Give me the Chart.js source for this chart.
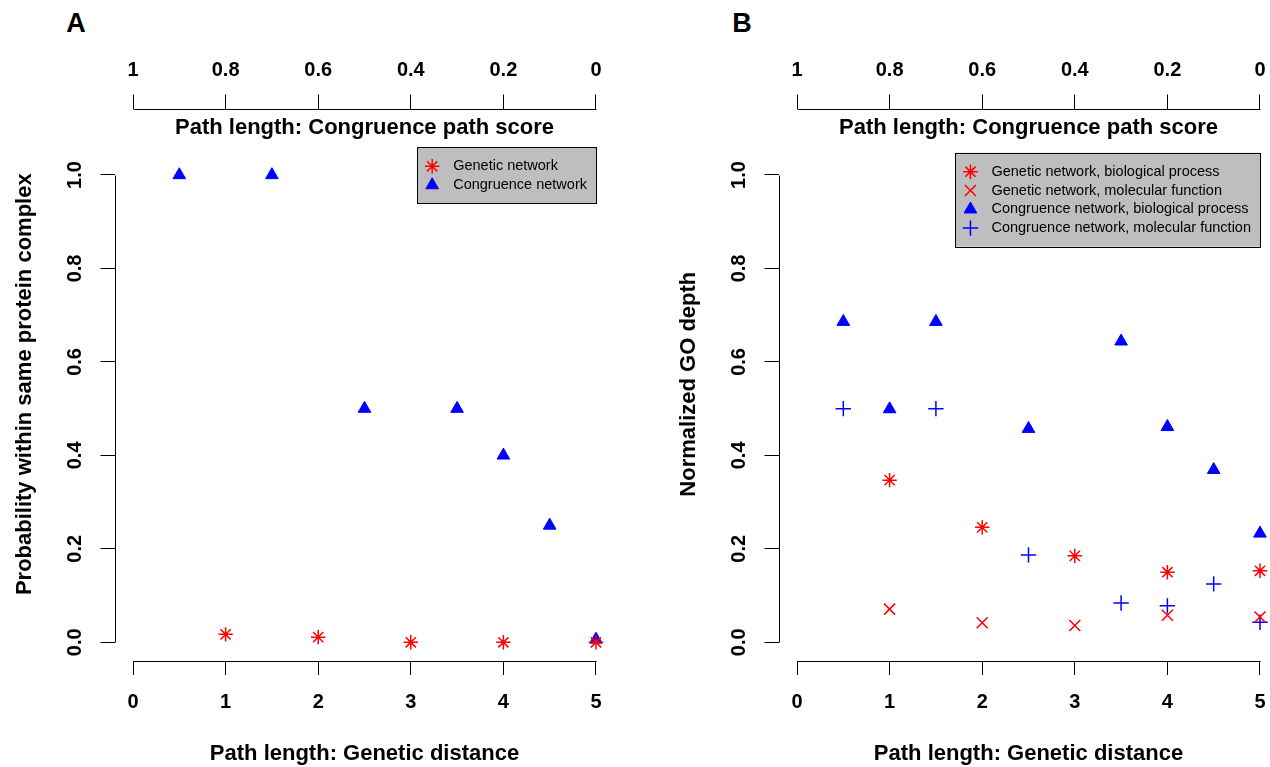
<!DOCTYPE html>
<html><head><meta charset="utf-8">
<script src="https://cdn.jsdelivr.net/npm/chart.js@4/dist/chart.umd.min.js"></script>
<style>
html,body{margin:0;padding:0;background:#fff;overflow:hidden;width:1270px;height:767px;position:relative}
.wrap{position:absolute;top:0;height:767px}
.lab{position:absolute;font:bold 27px "Liberation Sans",Arial,sans-serif;transform:translate(-50%,-50%);line-height:1}
</style></head><body>
<div class="lab" style="left:76px;top:23px">A</div>
<div class="lab" style="left:742px;top:23px">B</div>
<div class="wrap" style="left:0;width:635px"><canvas id="cA" width="635" height="767"></canvas></div>
<div class="wrap" style="left:664px;width:635px"><canvas id="cB" width="635" height="767"></canvas></div>
<script>
// ---- data ----
const pathLengthTicks = [0, 1, 2, 3, 4, 5];
const pathLengthLabels = ["0", "1", "2", "3", "4", "5"];
const congruenceScoreTicks = [1, 0.8, 0.6, 0.4, 0.2, 0];
const congruenceScoreLabels = ["1", "0.8", "0.6", "0.4", "0.2", "0"];
const yTicks = [0, 0.2, 0.4, 0.6, 0.8, 1.0];
const yTickLabels = ["0.0", "0.2", "0.4", "0.6", "0.8", "1.0"];

// Panel A
const geneticDistanceA = [1, 2, 3, 4, 5];
const probGenetic = [0.017, 0.011, 0, 0, 0];
const congruenceDistanceA = [0.5, 1.5, 2.5, 3.5, 4, 4.5, 5];
const probCongruence = [1.0, 1.0, 0.5, 0.5, 0.4, 0.25, 0.006];

// Panel B
const geneticDistanceB = [1, 2, 3, 4, 5];
const goGeneticBP = [0.347, 0.246, 0.185, 0.150, 0.153];
const goGeneticMF = [0.071, 0.042, 0.036, 0.058, 0.054];
const congruenceDistanceBP = [0.5, 1, 1.5, 2.5, 3.5, 4, 4.5, 5];
const goCongruenceBP = [0.686, 0.499, 0.686, 0.457, 0.644, 0.461, 0.369, 0.233];
const congruenceDistanceMF = [0.5, 1.5, 2.5, 3.5, 4, 4.5, 5];
const goCongruenceMF = [0.5, 0.5, 0.187, 0.084, 0.078, 0.125, 0.043];

const FONT = '"Liberation Sans", Arial, Helvetica, sans-serif';
const RED = '#FF0000', BLUE = '#0000FF';

function pts(xs, ys) { return xs.map((x, i) => ({x: x, y: ys[i]})); }

function series(label, xs, ys, style, color, radius, bw) {
  return {
    label: label, data: pts(xs, ys), pointStyle: style,
    pointRadius: radius, pointHoverRadius: radius,
    borderColor: color, backgroundColor: color, borderWidth: bw,
    pointBorderWidth: bw, showLine: false, xAxisID: 'x', yAxisID: 'y'
  };
}

const axisLinePlugin = {
  id: 'axisLines',
  afterDraw(chart) {
    const ctx = chart.ctx;
    ctx.save();
    ctx.strokeStyle = '#000';
    ctx.lineWidth = 1;
    ['x', 'x2', 'y'].forEach(id => {
      const s = chart.scales[id];
      const t = s.ticks;
      const p0 = s.getPixelForValue(t[0].value);
      const p1 = s.getPixelForValue(t[t.length - 1].value);
      ctx.beginPath();
      if (s.isHorizontal()) {
        const y = Math.round(s.position === 'top' ? s.bottom : s.top) + 0.5;
        ctx.moveTo(Math.round(p0) + 0.5, y);
        ctx.lineTo(Math.round(p1) + 0.5, y);
      } else {
        const x = Math.round(s.right) + 0.5;
        ctx.moveTo(x, Math.round(p0) + 0.5);
        ctx.lineTo(x, Math.round(p1) + 0.5);
      }
      ctx.stroke();
    });
    ctx.restore();
  }
};

const boxLegend = {
  id: 'boxLegend',
  afterDraw(chart, args, opts) {
    const ctx = chart.ctx;
    const ds = chart.data.datasets;
    ctx.save();
    ctx.font = opts.fontSize + 'px ' + FONT;
    const tw = Math.max.apply(null, ds.map(d => ctx.measureText(d.label).width));
    const w = 36 + tw + 9;
    const rowH = 18.8;
    const h = 19 + rowH * (ds.length - 1) + 18.5;
    const right = chart.scales.x.getPixelForValue(opts.anchorX);
    const left = right - w, top = opts.top;
    ctx.fillStyle = '#BEBEBE';
    ctx.fillRect(left, top, w, h);
    ctx.strokeStyle = '#000';
    ctx.lineWidth = 1;
    ctx.strokeRect(Math.round(left) + 0.5, Math.round(top) + 0.5, Math.round(w), Math.round(h));
    ds.forEach((d, i) => {
      const y = top + 19 + i * rowH;
      ctx.strokeStyle = d.borderColor;
      ctx.fillStyle = d.backgroundColor;
      ctx.lineWidth = d.borderWidth;
      Chart.helpers.drawPoint(ctx, {pointStyle: d.pointStyle, radius: d.pointRadius, rotation: 0, borderWidth: d.borderWidth}, left + 15, y);
      ctx.fillStyle = '#000';
      ctx.textBaseline = 'middle';
      ctx.textAlign = 'left';
      ctx.fillText(d.label, left + 36, y);
    });
    ctx.restore();
  }
};

function tickFont() { return {family: FONT, size: 20, weight: 'bold'}; }
function titleFont() { return {family: FONT, size: 22, weight: 'bold'}; }
function tickGrid() { return {display: true, drawOnChartArea: false, drawTicks: true, tickLength: 14, color: '#000', lineWidth: 1}; }

function makeOptions(yTitle, legendTop) {
  return {
    responsive: false,
    animation: false,
    events: [],
    layout: {padding: {left: 0, right: 20.5, top: 0, bottom: 0}},
    plugins: {
      legend: {display: false},
      tooltip: {enabled: false},
      boxLegend: {top: legendTop, anchorX: 5, fontSize: 14.5}
    },
    scales: {
      x: {
        type: 'linear', position: 'bottom', min: -0.2, max: 5.2,
        afterBuildTicks: s => { s.ticks = pathLengthTicks.map(v => ({value: v})); },
        afterFit: s => { s.height = 106; },
        grid: tickGrid(), border: {display: false},
        ticks: {color: '#000', font: tickFont(), padding: 15.7, maxRotation: 0, minRotation: 0, autoSkip: false,
                callback: (v, i) => pathLengthLabels[i]},
        title: {display: true, text: 'Path length: Genetic distance', color: '#000', font: titleFont(), padding: {top: 0, bottom: 0}}
      },
      x2: {
        type: 'linear', position: 'top', min: -0.04, max: 1.04, reverse: true, weight: 1,
        afterBuildTicks: s => { s.ticks = congruenceScoreTicks.map(v => ({value: v})); },
        afterFit: s => { s.height = 108.5; },
        grid: tickGrid(), border: {display: false},
        ticks: {color: '#000', font: tickFont(), padding: 12.5, maxRotation: 0, minRotation: 0, autoSkip: false,
                callback: (v, i) => congruenceScoreLabels[i]},
        title: {display: false}
      },
      x3: {
        type: 'linear', position: 'top', min: -0.04, max: 1.04, weight: 0,
        afterFit: s => { s.height = 47.8; },
        grid: {display: false}, border: {display: false},
        ticks: {display: false},
        title: {display: true, text: 'Path length: Congruence path score', color: '#000', font: titleFont(), padding: {top: 6.3, bottom: 0}}
      },
      y: {
        type: 'linear', position: 'left', min: -0.04, max: 1.04,
        afterBuildTicks: s => { s.ticks = yTicks.map(v => ({value: v})); },
        afterFit: s => { s.width = 114.5; },
        grid: tickGrid(), border: {display: false},
        ticks: {color: '#000', font: tickFont(), padding: 11.6, minRotation: 90, maxRotation: 90, crossAlign: 'center', autoSkip: false,
                callback: (v, i) => yTickLabels[i]},
        title: {display: true, text: yTitle, color: '#000', font: titleFont(), padding: {top: 11.8, bottom: 0}}
      }
    }
  };
}

new Chart(document.getElementById('cA'), {
  type: 'scatter',
  data: {datasets: [
    series('Genetic network', geneticDistanceA, probGenetic, 'star', RED, 7.2, 1.5),
    series('Congruence network', congruenceDistanceA, probCongruence, 'triangle', BLUE, 7.3, 1)
  ]},
  options: makeOptions('        Probability within same protein complex', 147.3),
  plugins: [axisLinePlugin, boxLegend]
});

new Chart(document.getElementById('cB'), {
  type: 'scatter',
  data: {datasets: [
    series('Genetic network, biological process', geneticDistanceB, goGeneticBP, 'star', RED, 7.2, 1.5),
    series('Genetic network, molecular function', geneticDistanceB, goGeneticMF, 'crossRot', RED, 7.8, 1.5),
    series('Congruence network, biological process', congruenceDistanceBP, goCongruenceBP, 'triangle', BLUE, 7.3, 1),
    series('Congruence network, molecular function', congruenceDistanceMF, goCongruenceMF, 'cross', BLUE, 7.7, 1.5)
  ]},
  options: makeOptions('        Normalized GO depth', 152.7),
  plugins: [axisLinePlugin, boxLegend]
});
</script>
</body></html>
